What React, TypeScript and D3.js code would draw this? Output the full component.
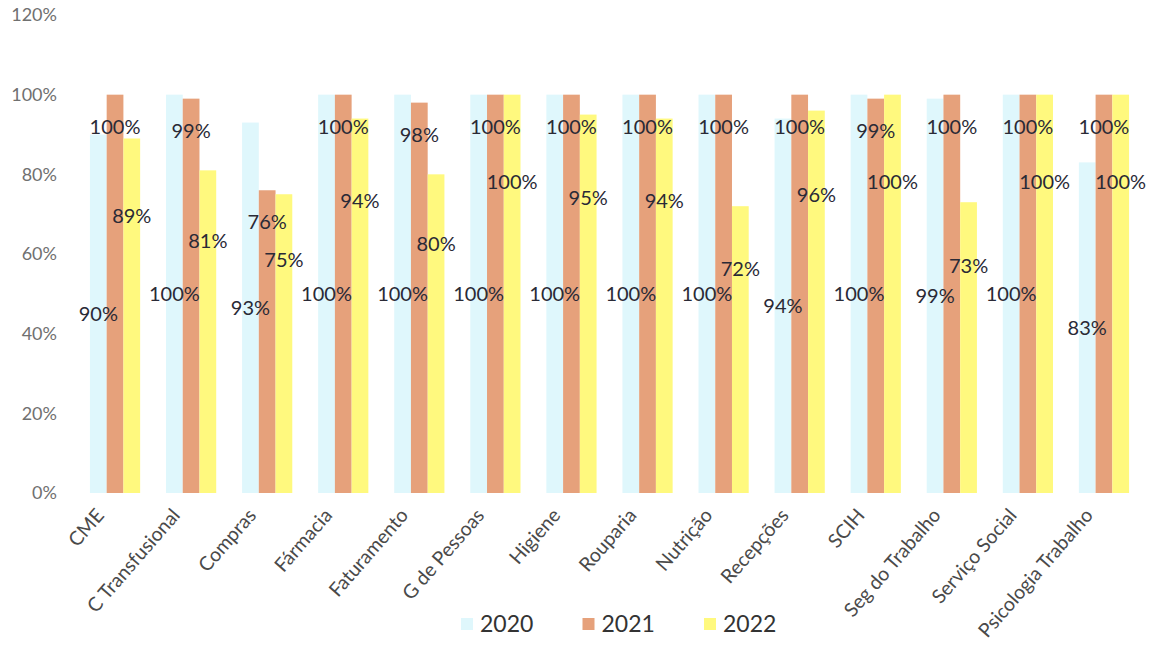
import React from "react";
import * as d3 from "d3";

const categories = [
  "CME",
  "C Transfusional",
  "Compras",
  "Fármacia",
  "Faturamento",
  "G de Pessoas",
  "Higiene",
  "Rouparia",
  "Nutrição",
  "Recepções",
  "SCIH",
  "Seg do Trabalho",
  "Serviço Social",
  "Psicologia Trabalho",
];

const values2020 = [90, 100, 93, 100, 100, 100, 100, 100, 100, 94, 100, 99, 100, 83];
const values2021 = [100, 99, 76, 100, 98, 100, 100, 100, 100, 100, 99, 100, 100, 100];
const values2022 = [89, 81, 75, 94, 80, 100, 95, 94, 72, 96, 100, 73, 100, 100];

const seriesNames = ["2020", "2021", "2022"];
const yTicks = [0, 20, 40, 60, 80, 100, 120];

const colors = ["#DFF7FC", "#E6A17B", "#FFF97E"];

const width = 1155;
const height = 647;

export default function App() {
  const series = [values2020, values2021, values2022];

  const x = d3
    .scaleBand<string>()
    .domain(categories)
    .range([77, 1142])
    .paddingInner(0.34)
    .paddingOuter(0.17);

  const xInner = d3
    .scaleBand<string>()
    .domain(seriesNames)
    .range([0, x.bandwidth()]);

  const y = d3.scaleLinear().domain([0, 120]).range([493, 15]);

  // label anchor (in value units) for each series, roughly as in the source
  const labelPos = (s: number, v: number) => {
    if (s === 0) return v / 2;
    if (s === 1) return v - 8;
    return v * 0.78;
  };

  const legendX = d3
    .scaleLinear()
    .domain([0, 2])
    .range([461, 704]);

  const font = "Lato, 'Open Sans', sans-serif";

  return (
    <div style={{ position: "fixed", left: 0, top: 0 }}>
      <svg width={width} height={height} style={{ display: "block", background: "#fff" }}>
        {/* y axis labels */}
        <g fontFamily={font} fontSize={18} fill="#707070">
          {yTicks.map((t) => (
            <text key={t} x={57} y={y(t)} dy="0.35em" textAnchor="end">
              {t}%
            </text>
          ))}
        </g>

        {/* bars */}
        {series.map((vals, s) => (
          <g key={seriesNames[s]} fill={colors[s]}>
            {categories.map((c, i) => (
              <rect
                key={c}
                x={(x(c) ?? 0) + (xInner(seriesNames[s]) ?? 0)}
                y={y(vals[i])}
                width={xInner.bandwidth()}
                height={y(0) - y(vals[i])}
              />
            ))}
          </g>
        ))}

        {/* data labels */}
        <g fontFamily={font} fontSize={20} fill="#2a2a36">
          {series.map((vals, s) =>
            categories.map((c, i) => (
              <text
                key={`${s}-${c}`}
                x={(x(c) ?? 0) + (xInner(seriesNames[s]) ?? 0) + xInner.bandwidth() / 2}
                y={y(labelPos(s, vals[i]))}
                dy="0.35em"
                textAnchor="middle"
              >
                {vals[i]}%
              </text>
            ))
          )}
        </g>

        {/* x axis labels */}
        <g fontFamily={font} fontSize={19.5} fill="#4a4a4a">
          {categories.map((c) => {
            const cx = (x(c) ?? 0) + x.bandwidth() / 2 - 10;
            const cy = 516;
            return (
              <text
                key={c}
                x={cx}
                y={cy}
                textAnchor="end"
                transform={`rotate(-49, ${cx}, ${cy})`}
              >
                {c}
              </text>
            );
          })}
        </g>

        {/* legend */}
        <g fontFamily={font} fontSize={23} fill="#333">
          {seriesNames.map((n, s) => (
            <g key={n} transform={`translate(${legendX(s)}, 624)`}>
              <rect x={0} y={-6} width={12} height={12} fill={colors[s]} />
              <text x={19} y={0} dy="0.35em">
                {n}
              </text>
            </g>
          ))}
        </g>
      </svg>
    </div>
  );
}
